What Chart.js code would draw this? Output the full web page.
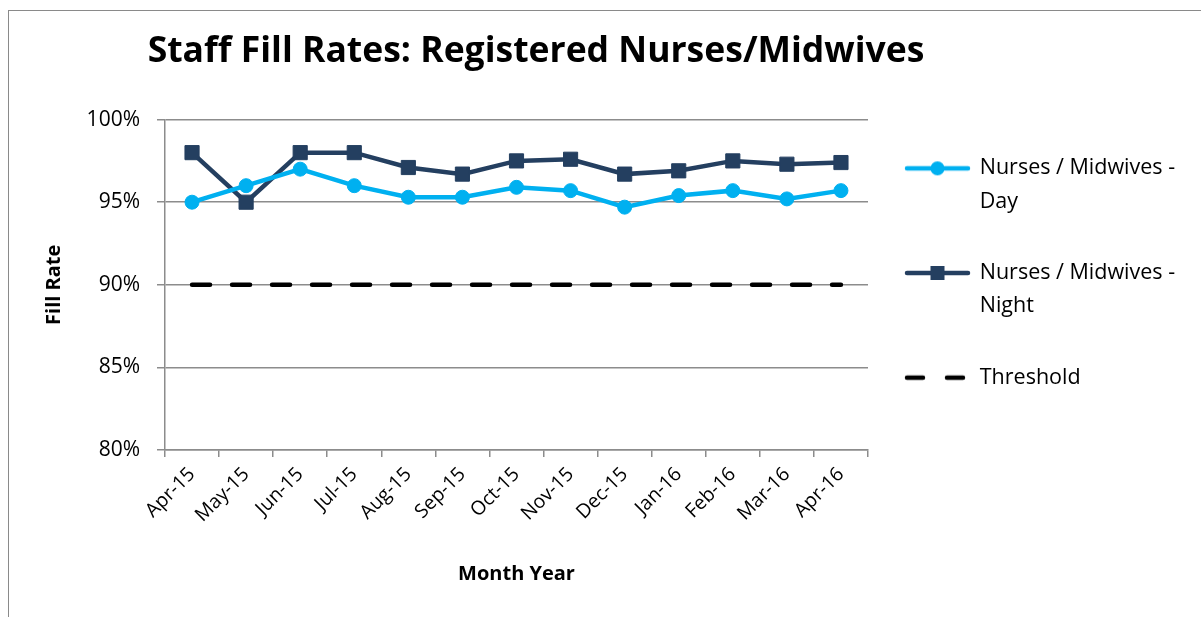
<!DOCTYPE html>
<html lang="en">
<head>
  <meta charset="UTF-8">
  <title>Staff Fill Rates: Registered Nurses/Midwives</title>
  <script src="https://cdn.jsdelivr.net/npm/chart.js"></script>
  <style>
    html, body {
      margin: 0;
      padding: 0;
      background: #fff;
      overflow: hidden;
    }

    .frame {
      position: absolute;
      left: 8px;
      top: 10px;
      width: 1300px;
      height: 700px;
      border: 1.5px solid #8a8a8a;
    }

    #chart {
      position: absolute;
      left: 0;
      top: 0;
    }
  </style>
</head>
<body>
  <div class="frame"></div>
  <canvas id="chart" width="1201" height="617"></canvas>

  <script>
    const months = ['Apr-15', 'May-15', 'Jun-15', 'Jul-15', 'Aug-15', 'Sep-15', 'Oct-15',
                    'Nov-15', 'Dec-15', 'Jan-16', 'Feb-16', 'Mar-16', 'Apr-16'];
    const dayRates = [95.0, 96.0, 97.0, 96.0, 95.3, 95.3, 95.9, 95.7, 94.7, 95.4, 95.7, 95.2, 95.7];
    const nightRates = [98.0, 95.0, 98.0, 98.0, 97.1, 96.7, 97.5, 97.6, 96.7, 96.9, 97.5, 97.3, 97.4];
    const threshold = [90, 90, 90, 90, 90, 90, 90, 90, 90, 90, 90, 90, 90];
    const yTicks = [80, 85, 90, 95, 100];

    const dayColor = '#00B0F0';
    const nightColor = '#243F60';
    const gridColor = '#8c8c8c';
    const fontFamily = "'Open Sans', Lato, sans-serif";

    // small legend icons: line + marker, like the spreadsheet legend
    function legendIcon(color, marker, dashed) {
      const c = document.createElement('canvas');
      c.width = 67;
      c.height = 18;
      const g = c.getContext('2d');
      g.strokeStyle = color;
      g.fillStyle = color;
      g.lineWidth = 4.5;
      g.lineCap = 'round';
      if (dashed) {
        g.setLineDash([16, 24]);
      }
      g.beginPath();
      g.moveTo(3, 9);
      g.lineTo(64, 9);
      g.stroke();
      if (marker === 'circle') {
        g.beginPath();
        g.arc(33.5, 9, 7, 0, Math.PI * 2);
        g.fill();
      } else if (marker === 'rect') {
        g.fillRect(26.5, 2, 14, 14);
      }
      return c;
    }

    const icons = [
      legendIcon(dayColor, 'circle', false),
      legendIcon(nightColor, 'rect', false),
      legendIcon('#000', null, true)
    ];
    const legendText = [
      ['Nurses / Midwives -', 'Day'],
      ['Nurses / Midwives -', 'Night'],
      ['Threshold']
    ];

    // legend box stays narrow for the layout, but its text runs past it
    const widenLegend = {
      id: 'widenLegend',
      afterLayout(chart) {
        const lg = chart.legend;
        lg.right = chart.width - 2;
        lg.width = lg.right - lg.left;
      }
    };

    const chart = new Chart(document.getElementById('chart'), {
      type: 'line',
      data: {
        labels: months,
        datasets: [{
          label: 'Nurses / Midwives - Day',
          data: dayRates,
          borderColor: dayColor,
          backgroundColor: dayColor,
          borderWidth: 4.5,
          pointStyle: 'circle',
          pointRadius: 7,
          pointBorderWidth: 1,
          tension: 0
        }, {
          label: 'Nurses / Midwives - Night',
          data: nightRates,
          borderColor: nightColor,
          backgroundColor: nightColor,
          borderWidth: 4.5,
          pointStyle: 'rect',
          pointRadius: 10,
          pointBorderWidth: 1,
          tension: 0
        }, {
          label: 'Threshold',
          data: threshold,
          borderColor: '#000',
          backgroundColor: '#000',
          borderWidth: 4.5,
          borderDash: [18, 22],
          borderCapStyle: 'round',
          pointRadius: 0,
          tension: 0
        }]
      },
      plugins: [widenLegend],
      options: {
        responsive: false,
        animation: false,
        layout: {
          padding: { left: 38, right: 167, top: 0, bottom: 27 }
        },
        plugins: {
          title: {
            display: true,
            text: 'Staff Fill Rates: Registered Nurses/Midwives',
            color: '#000',
            font: { family: fontFamily, size: 35.5, weight: 'bold' },
            padding: { top: 31, bottom: 46 }
          },
          legend: {
            position: 'right',
            align: 'start',
            fullSize: false,
            maxWidth: 166,
            labels: {
              usePointStyle: true,
              pointStyleWidth: 63,
              padding: 38,
              color: '#000',
              font: { family: fontFamily, size: 21.5, lineHeight: 1.55 },
              generateLabels: (ch) => ch.data.datasets.map((ds, i) => ({
                text: legendText[i],
                pointStyle: icons[i],
                fillStyle: ds.borderColor,
                strokeStyle: ds.borderColor,
                fontColor: '#000',
                lineWidth: 0,
                hidden: false,
                textAlign: 'left',
                datasetIndex: i
              }))
            }
          },
          tooltip: { enabled: false }
        },
        scales: {
          x: {
            offset: true,
            grid: {
              offset: true,
              drawOnChartArea: false,
              color: gridColor,
              lineWidth: 1.5,
              tickLength: 7
            },
            border: { color: gridColor, width: 1.5 },
            ticks: {
              color: '#000',
              padding: 6,
              minRotation: 45,
              maxRotation: 45,
              font: { family: fontFamily, size: 19.5 }
            },
            title: {
              display: true,
              text: 'Month Year',
              color: '#000',
              font: { family: fontFamily, size: 20, weight: 'bold' }
            },
            afterFit: (scale) => { scale.height = 140; }
          },
          y: {
            min: 80,
            max: 100,
            afterBuildTicks: (scale) => { scale.ticks = yTicks.map(v => ({ value: v })); },
            grid: {
              color: gridColor,
              lineWidth: 1.5,
              tickLength: 8
            },
            border: { color: gridColor, width: 1.5 },
            ticks: {
              color: '#000',
              padding: 17,
              font: { family: fontFamily, size: 21 },
              callback: (v) => v + '%'
            },
            title: {
              display: true,
              text: 'Fill Rate',
              color: '#000',
              font: { family: fontFamily, size: 20, weight: 'bold' }
            },
            afterFit: (scale) => { scale.width = 127; }
          }
        }
      }
    });
  </script>
</body>
</html>
